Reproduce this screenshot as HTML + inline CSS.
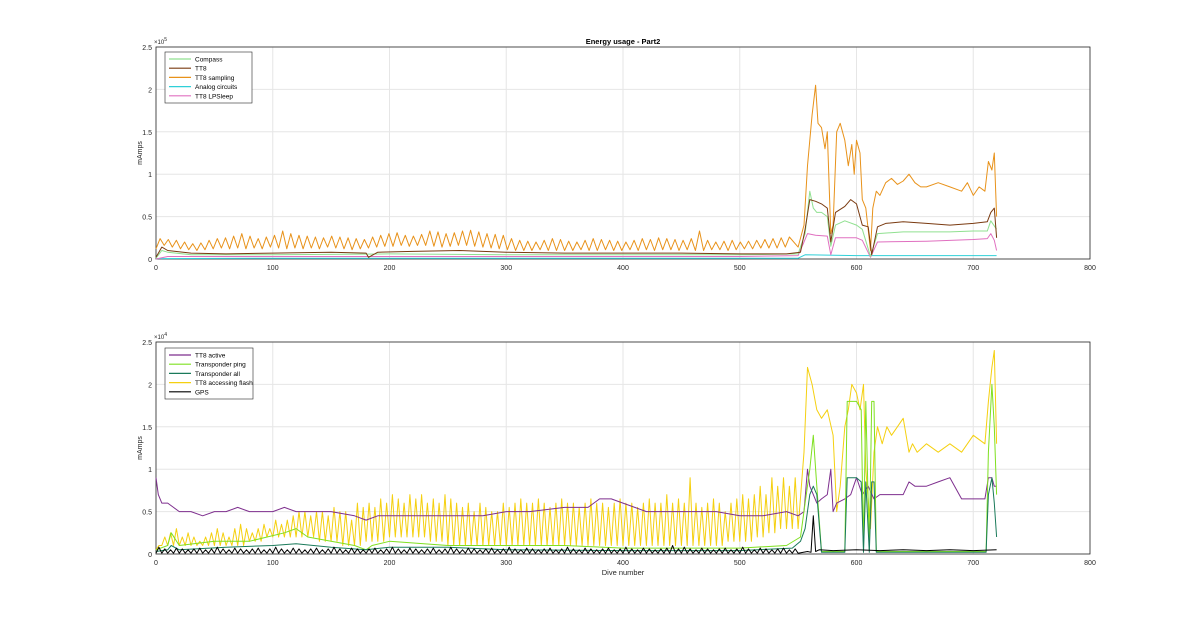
<!DOCTYPE html>
<html><head><meta charset="utf-8"><style>
body{margin:0;background:#fff;}
svg{display:block;font-family:"Liberation Sans",sans-serif;}
</style></head><body>
<svg id="chart" width="1200" height="622" viewBox="0 0 1200 622"></svg>
<script>
// ---- data ----
const xTicks=[0,100,200,300,400,500,600,700,800];
const topTicks=[0,0.5,1,1.5,2,2.5];
const botTicks=[0,0.5,1,1.5,2,2.5];
const topLegend=["Compass","TT8","TT8 sampling","Analog circuits","TT8 LPSleep"];
const botLegend=["TT8 active","Transponder ping","Transponder all","TT8 accessing flash","GPS"];
// top panel (units 1e3 mAmps); spiky part 0-550 uses peaks/valleys every 7 dives
const samplingPeaks=[24,23,22,20,18,19,22,24,25,27,30,27,24,26,28,33,30,28,27,26,25,27,26,25,24,23,26,28,30,31,28,27,29,33,32,30,31,33,34,32,30,29,28,24,22,21,20,22,24,23,21,20,22,24,23,22,21,20,22,24,23,25,24,23,22,24,33,22,20,21,22,20,21,22,23,24,25,26];
const samplingValleys=[12,16,14,12,11,10,11,12,13,12,13,12,13,12,14,13,12,13,12,13,12,14,13,12,11,12,13,14,15,15,16,15,16,16,15,14,15,16,16,15,14,13,12,11,10,10,10,11,10,10,10,10,11,10,10,11,10,10,11,10,11,10,11,11,10,11,10,10,11,11,10,11,12,12,13,13,13,14];
const samplingTailX=[550,555,558,562,565,567,570,573,575,578,580,583,586,590,593,596,598,600,603,605,608,612,614,617,620,625,630,635,640,645,650,655,660,670,680,690,695,700,705,710,713,716,718,720];
const samplingTailY=[14,40,110,170,205,160,155,130,150,30,40,150,160,140,110,135,100,140,125,70,60,10,60,80,75,90,95,88,92,100,90,85,85,90,85,80,90,75,85,80,115,105,125,50];
const tt8X=[0,5,10,30,60,100,150,180,182,190,220,260,300,350,400,450,500,540,552,556,560,565,570,575,578,582,590,595,600,605,610,613,618,625,640,660,680,700,712,715,718,720];
const tt8Y=[2,14,10,7,6,7,8,7,2,8,9,10,8,7,7,7,6,6,8,35,70,68,65,60,20,55,62,70,65,40,38,5,38,42,44,42,40,42,44,55,60,25];
const compassX=[0,5,10,30,100,200,300,400,500,550,556,560,563,566,570,575,578,582,590,600,605,612,618,640,680,700,712,715,720];
const compassY=[1,10,8,5,5,6,5,5,5,6,30,80,60,55,55,50,15,40,45,40,35,3,30,32,32,33,33,45,35];
const lpsX=[0,10,100,300,500,550,555,558,565,575,578,582,600,605,612,618,660,700,712,715,718,720];
const lpsY=[0,3,3,3,3,4,20,30,28,27,5,25,25,22,2,20,21,23,24,30,22,10];
const analogX=[0,100,300,550,556,600,720];
const analogY=[0.5,1,1,1,5,4,4];
// bottom panel (units 1e3 mAmps); spiky part 0-550 every 5 dives
const flashPeaks=[1,2,2.5,3,2,2.5,2,1.5,2,2.5,3,2.5,2,3,3.5,3,2.5,3,3.5,3,4,3.5,4,4.5,5,5,4.5,5,5,4.5,5.5,5,5,4,6,5.5,6,5.5,6.5,6,7,6.5,6,7,6.5,7,6,6.5,6,7,6.5,6,5.5,6,5,6,5.5,5,5,6,5.5,6,6.5,6,6,6.5,6,5.5,6,6.5,6,6,5.5,6,6.5,6,6,5.5,6,6.5,6,6,5.5,6,6.5,6,6,7,6,6.5,6,9,6,5.5,6,6.5,6,5,6,6.5,7,6.5,7,8,7,9,8,9,8,9];
const flashValleys=[0.5,1,1,1,1,1,1,1,1,1,1,1,1,1,1,1,1.5,1.5,1.5,2,2,2,2,2,2,2,2,2,1.5,1.5,1.5,1.5,1,1,1,1,1.5,1.5,1.5,1.5,2,2,2,2,2,2,2,1.5,1.5,1.5,1,1,1,1,1,1,1,1,1,1,1,1,1,1,1,1,1,1,1,1,1,1,1,1,1,1,1,1,1,1,1,1,1,1,1,1,1,1,1,1,1,1,1,1,1,1,1,1,1.5,1.5,1.5,1.5,1.5,2,2,2.5,2.5,3,3,3];
const flashTailX=[550,555,558,562,566,570,575,580,583,586,590,593,596,600,603,606,608,612,615,618,622,626,630,635,640,645,648,652,660,670,680,690,700,710,713,716,718,720];
const flashTailY=[3,12,22,20,17,16,17,14,5,8,15,17,20,19,17,20,10,3,12,15,13,15,14,15,16,12,13,12,13,12,13,12,14,13,18,22,24,13];
const activeX=[0,2,5,10,15,20,30,40,50,60,70,80,90,100,110,120,130,150,170,180,190,200,220,250,280,300,320,350,370,380,390,400,420,450,480,500,520,540,550,555,558,560,563,566,570,575,578,580,583,590,595,600,605,610,615,620,630,640,645,650,660,670,680,690,700,710,713,716,718,720];
const activeY=[9,7,6,6,5.5,5,5,4.5,5,5,5.5,5,5,5,5.5,5,5,5,4.5,4,4.5,4.5,4.5,4.5,4.5,5,5,5.5,5.5,6.5,6.5,6,5,5,5,4.5,4.5,5,4.5,5,10,8,7,6,6.5,7,10,5,6,6.5,7,9,7,8,6.5,7,7,7,8.5,8,8,8.5,9,6.5,6.5,6.5,9,9,8,8];
const pingX=[0,10,13,20,50,80,110,120,130,150,170,180,185,200,250,300,350,400,450,500,540,552,556,560,563,566,570,585,590,592,600,604,606,608,611,613,615,617,620,700,711,713,716,718,720];
const pingY=[0.5,1,2.5,1,1.5,1.5,2.5,3,2,1.5,1,0.5,1,1.5,1,1,1,0.7,0.7,0.7,1,2,6,10,14,8,0.3,0.3,0.3,18,18,17,0.5,18,0.5,18,18,0.3,0.3,0.3,0.3,12,20,15,7];
const allX=[0,10,13,20,60,100,120,150,180,200,250,300,400,500,545,552,556,560,563,566,570,590,592,600,604,606,608,611,613,615,617,620,700,711,713,716,718,720];
const allY=[0.3,0.5,1,0.5,0.8,1,1.2,0.8,0.5,0.8,0.8,0.5,0.4,0.4,0.7,1.5,3,7,8,7,0.2,0.2,9,9,8.5,0.2,8.5,0.2,8.5,8.5,0.2,0.2,0.2,0.2,7,9,6,2];
const gpsPeaks=[0.8,0.6,0.5,0.7,0.6,0.5,0.6,0.7,0.5,0.6,0.8,0.6,0.5,0.7,0.6,0.5,0.6,0.7,0.5,0.6,0.8,0.6,0.5,0.7,0.6,0.5,0.6,0.7,0.5,0.6,0.8,0.6,0.5,0.7,0.6,0.5,0.6,0.7,0.5,0.6,0.8,0.6,0.5,0.7,0.6,0.5,0.6,0.7,0.5,0.6,0.8,0.6,0.5,0.7,0.6,0.5,0.6,0.7,0.5,0.6,0.8,0.6,0.5,0.7,0.6,0.5,0.6,0.7,0.5,0.6,0.8,0.6,0.5,0.7,0.6,0.5,0.6,0.7,0.5,0.6,0.8,0.6,0.5,0.7,0.6,0.5,0.6,0.7,1,0.6,0.8,0.6,0.5,0.7,0.6,0.5,0.6,0.7,0.5,0.6,0.8,0.6,0.5,0.7,0.6,0.5,0.6,0.7,0.5,0.6];
const gpsTailX=[550,558,561,563,565,568,580,600,620,640,660,680,700,720];
const gpsTailY=[0.1,0.3,0.2,4.5,0.3,0.5,0.4,0.5,0.4,0.5,0.4,0.5,0.4,0.5];

// ---- drawing ----
const NS="http://www.w3.org/2000/svg";
const svg=document.getElementById('chart');
const L=156,R=1090;
const panels={top:{t:47,b:259},bot:{t:342,b:554}};
function xs(v){return L+(R-L)*v/800;}
function ys(p,v){return p.b-(p.b-p.t)*v/25;} // v in 1e3 units for bottom, 1e4 scale handled by caller
function mk(tag,attrs,parent){const e=document.createElementNS(NS,tag);for(const k in attrs)e.setAttribute(k,attrs[k]);(parent||svg).appendChild(e);return e;}
function spiky(peaks,valleys,period){const X=[],Y=[];for(let i=0;i<peaks.length;i++){X.push(i*period);Y.push(valleys?valleys[i]:0.1);X.push(i*period+period/2);Y.push(peaks[i]);}return [X,Y];}
function drawAxes(p,ticks,expLabel,name){
  const g=mk('g',{});
  
  
  for(const t of xTicks){const x=xs(t);mk('line',{x1:x,x2:x,y1:p.t,y2:p.b,stroke:'#e6e6e6','stroke-width':1},g);
    const tx=mk('text',{x:x,y:p.b+11,'font-size':7,'text-anchor':'middle',fill:'#262626'},g);tx.textContent=t;
    }
  for(const t of ticks){const y=p.b-(p.b-p.t)*t/2.5;mk('line',{x1:L,x2:R,y1:y,y2:y,stroke:'#e6e6e6','stroke-width':1},g);
    const tx=mk('text',{x:L-4,y:y+3,'font-size':7,'text-anchor':'end',fill:'#262626'},g);tx.textContent=t;
    }
  mk('rect',{x:L,y:p.t,width:R-L,height:p.b-p.t,fill:'none',stroke:'#262626','stroke-width':0.8},g);
  const e=mk('text',{x:L-2,y:p.t-3,'font-size':6,fill:'#262626'},g);e.innerHTML='×10<tspan dy="-3" font-size="5">'+expLabel+'</tspan>';
  
  const yl=mk('text',{x:0,y:0,'font-size':7,'text-anchor':'middle',fill:'#262626',transform:`translate(142,${(p.t+p.b)/2}) rotate(-90)`},g);yl.textContent='mAmps';
  
}
function line(p,X,Y,scale,color,name,w){
  let d='';for(let i=0;i<X.length;i++){d+=(i?'L':'M')+xs(X[i]).toFixed(1)+','+ys(p,Y[i]*scale).toFixed(1);}
  const e=mk('path',{d:d,fill:'none',stroke:color,'stroke-width':w||1,'stroke-linejoin':'round'});
  
  
}
function legend(x,y,w,labels,colors,name){
  const g=mk('g',{});
  
  
  mk('rect',{x:x,y:y,width:w,height:51,fill:'#fff',stroke:'#262626','stroke-width':0.6},g);
  labels.forEach((l,i)=>{const yy=y+7+i*9.2;mk('line',{x1:x+4,x2:x+26,y1:yy,y2:yy,stroke:colors[i],'stroke-width':1.2},g);
    const t=mk('text',{x:x+30,y:yy+2.5,'font-size':6.5,fill:'#000'},g);t.textContent=l;
    });
}
const P=panels.top,B=panels.bot;
drawAxes(P,topTicks,'5','top');
drawAxes(B,botTicks,'4','bottom');
const title=mk('text',{x:623,y:44,'font-size':7.5,'font-weight':'bold','text-anchor':'middle',fill:'#000'});title.textContent='Energy usage - Part2';

const xl=mk('text',{x:623,y:575,'font-size':7.5,'text-anchor':'middle',fill:'#262626'});xl.textContent='Dive number';

// top series: values in 1e3, axis max 250e3 -> scale 0.1 to 25 units
const topColors=['#90e090','#7a3a10','#e8921a','#30d0d8','#e070c0'];
let [sx,sy]=spiky(samplingPeaks,samplingValleys,7);
line(P,sx.concat(samplingTailX),sy.concat(samplingTailY),0.1,topColors[2],'tt8-sampling-line');
line(P,analogX,analogY,0.1,topColors[3],'analog-circuits-line');
line(P,lpsX,lpsY,0.1,topColors[4],'tt8-lpsleep-line');
line(P,compassX,compassY,0.1,topColors[0],'compass-line');
line(P,tt8X,tt8Y,0.1,topColors[1],'tt8-line');
legend(165,52,87,topLegend,topColors,'top-legend');
// bottom series: values in 1e3, axis max 25e3
const botColors=['#7e2f8e','#7fe020','#1a7a5a','#f5d010','#000000'];
let [fx,fy]=spiky(flashPeaks,flashValleys,5);
line(B,fx.concat(flashTailX),fy.concat(flashTailY),1,botColors[3],'tt8-accessing-flash-line');
line(B,activeX,activeY,1,botColors[0],'tt8-active-line');
line(B,pingX,pingY,1,botColors[1],'transponder-ping-line');
line(B,allX,allY,1,botColors[2],'transponder-all-line');
let [gx,gy]=spiky(gpsPeaks,null,5);
line(B,gx.concat(gpsTailX),gy.concat(gpsTailY),1,botColors[4],'gps-line');
legend(165,348,88,botLegend,botColors,'bottom-legend');
</script>
</body></html>
